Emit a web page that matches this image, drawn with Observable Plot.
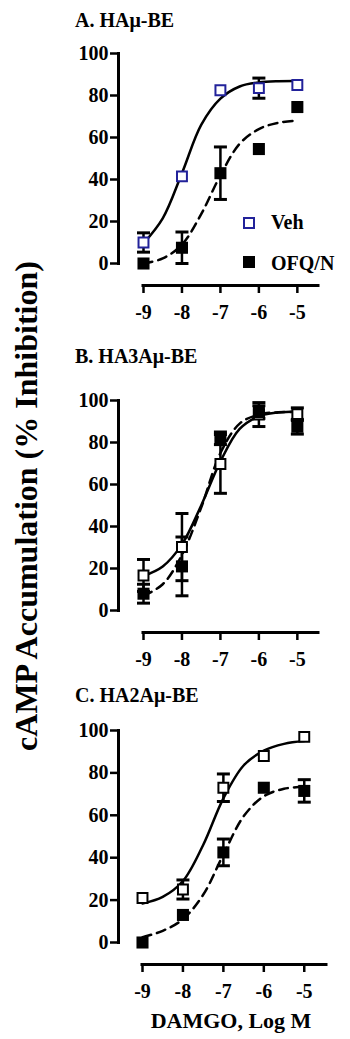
<!DOCTYPE html>
<html>
<head>
<meta charset="utf-8">
<script src="https://cdn.jsdelivr.net/npm/d3@7"></script>
<script src="https://cdn.jsdelivr.net/npm/@observablehq/plot@0.6"></script>
<style>
  html, body { margin: 0; padding: 0; background: white; }
  #root { position: relative; width: 350px; height: 1039px; overflow: hidden;
          font-family: 'Liberation Serif', 'Times New Roman', serif; font-weight: bold; color: black; }
  #root svg, #root svg text { font-family: 'Liberation Serif', 'Times New Roman', serif !important; font-weight: bold; }
  .abs { position: absolute; white-space: nowrap; }
  .t20 { font-size: 20px; line-height: 20px; }
</style>
</head>
<body>
<div id="root"></div>
<script>
// ---------- data ----------
const xTicks = [-9, -8, -7, -6, -5];            // DAMGO, log M
const yTicks = [0, 20, 40, 60, 80, 100];
const fitX = [-9, -8.5, -8, -7.5, -7, -6.5, -6, -5.5, -5];

const panelTitles = ["A. HAμ-BE", "B. HA3Aμ-BE", "C. HA2Aμ-BE"];
const seriesNames = ["Veh", "OFQ/N"];
const yLabel = "cAMP Accumulation (% Inhibition)";
const xLabel = "DAMGO, Log M";

// Panel A
const aVehMean = [10, 41.5, 82.5, 83.5, 85];
const aVehErr  = [4.6, 0, 0, 4.8, 0];
const aOfqMean = [0, 7.5, 43, 54.5, 74.5];
const aOfqErr  = [0, 7.5, 12.5, 0, 0];
const aVehFit  = [9.6, 21.5, 43, 66, 78.5, 84.3, 86.2, 86.8, 86.9];
const aOfqFit  = [0, 2.4, 9, 23.5, 42, 57, 64, 67, 68];

// Panel B
const bVehMean = [16.7, 30.2, 69.8, 93.3, 93.5];
const bVehErr  = [7.6, 16, 14, 5.7, 3];
const bOfqMean = [8, 21, 82, 94.5, 87.5];
const bOfqErr  = [4.5, 14, 3, 3, 3.5];
const bVehFit  = [16.5, 21, 31.5, 50, 71, 86.5, 92.5, 94.3, 94.8];
const bOfqFit  = [7, 12.5, 26.5, 49, 75, 89, 93.3, 94.4, 94.6];

// Panel C
const cVehMean = [21, 25, 73, 88, 97];
const cVehErr  = [0, 4.5, 6.5, 0, 0];
const cOfqMean = [0, 13, 42.5, 73, 71.5];
const cOfqErr  = [0, 0, 6.3, 0, 5.3];
const cVehFit  = [18.4, 21.5, 29, 46, 68, 83.5, 90.5, 93.7, 95];
const cOfqFit  = [2.5, 5.5, 11, 22.5, 41.5, 59.5, 69, 72.5, 73.5];

// ---------- layout ----------
const FONT = "'Liberation Serif', 'Times New Roman', serif";
const vehColors = ["#22229a", "#000", "#000"];
const xDomain = [-9, -4.45];
const panels = [
  {top: 0,   xRange: [143, 318], height: 330, mb: 67, title: 0,
   veh: [aVehMean, aVehErr, aVehFit], ofq: [aOfqMean, aOfqErr, aOfqFit]},
  {top: 347, xRange: [143, 318], height: 330, mb: 67, title: 1,
   veh: [bVehMean, bVehErr, bVehFit], ofq: [bOfqMean, bOfqErr, bOfqFit]},
  {top: 677, xRange: [142, 326], height: 330, mb: 65, title: 2,
   veh: [cVehMean, cVehErr, cVehFit], ofq: [cOfqMean, cOfqErr, cOfqFit]}
];
const titleTops = [10, 346, 685];

const capSymbol = {
  draw(context, size) {
    const r = Math.sqrt(size / Math.PI);
    context.moveTo(-r, 0);
    context.lineTo(r, 0);
  }
};

const root = document.getElementById("root");

function pts(means, errs) {
  return xTicks.map((x, i) => ({x, y: means[i], e: errs[i]}));
}
function fit(vals) {
  return fitX.map((x, i) => ({x, y: vals[i]}));
}

panels.forEach((p, k) => {
  const veh = pts(p.veh[0], p.veh[1]);
  const ofq = pts(p.ofq[0], p.ofq[1]);
  const vehE = veh.filter(d => d.e > 0);
  const ofqE = ofq.filter(d => d.e > 0);
  const caps = (arr) => arr.flatMap(d => [{x: d.x, y: d.y + d.e}, {x: d.x, y: d.y - d.e}]);
  const vc = vehColors[k];

  const chart = Plot.plot({
    width: 350,
    height: p.height,
    marginTop: 53,
    marginBottom: p.mb,
    marginLeft: 118,
    marginRight: 10,
    x: {domain: xDomain, range: p.xRange},
    y: {domain: [0, 100]},
    style: {
      fontFamily: FONT,
      fontSize: "20px",
      fontWeight: "bold",
      color: "black",
      background: "transparent",
      overflow: "visible"
    },
    marks: [
      Plot.frame({anchor: "left", strokeWidth: 3}),
      Plot.axisY({ticks: yTicks, label: null, tickSize: 8, tickPadding: 2, strokeWidth: 2.5,
                  fontFamily: FONT, fontSize: 20, fontWeight: "bold", tickFormat: d => String(d)}),
      Plot.ruleY([0], {x1: () => xDomain[0], x2: () => xDomain[1], dy: 22, strokeWidth: 3, strokeLinecap: "square"}),
      Plot.axisX({ticks: xTicks, label: null, tickSize: 8, tickPadding: 11, dy: 22, strokeWidth: 2.5,
                  fontFamily: FONT, fontSize: 20, fontWeight: "bold", tickFormat: d => String(d)}),
      // fitted curves
      Plot.line(fit(p.veh[2]), {x: "x", y: "y", curve: "catmull-rom", stroke: "black", strokeWidth: 2.5}),
      Plot.line(fit(p.ofq[2]), {x: "x", y: "y", curve: "catmull-rom", stroke: "black", strokeWidth: 2.5, strokeDasharray: "9,6"}),
      // error bars
      Plot.ruleX(vehE, {x: "x", y1: d => d.y - d.e, y2: d => d.y + d.e, stroke: "black", strokeWidth: 2.5}),
      Plot.dot(caps(vehE), {x: "x", y: "y", symbol: capSymbol, r: 6.5, stroke: "black", strokeWidth: 3}),
      Plot.ruleX(ofqE, {x: "x", y1: d => d.y - d.e, y2: d => d.y + d.e, stroke: "black", strokeWidth: 2.5}),
      Plot.dot(caps(ofqE), {x: "x", y: "y", symbol: capSymbol, r: 6.5, stroke: "black", strokeWidth: 3}),
      // points
      Plot.dot(veh, {x: "x", y: "y", symbol: "square", r: 5.6, fill: "white", stroke: vc, strokeWidth: 2}),
      Plot.dot(ofq, {x: "x", y: "y", symbol: "square", r: 6.8, fill: "black", stroke: "none"})
    ]
  });
  const holder = document.createElement("div");
  holder.className = "abs";
  holder.style.left = "0px";
  holder.style.top = p.top + "px";
  holder.appendChild(chart);
  root.appendChild(holder);

  const t = document.createElement("div");
  t.className = "abs t20";
  t.style.left = "75px";
  t.style.top = titleTops[k] + "px";
  t.textContent = panelTitles[p.title];
  root.appendChild(t);
});

// legend (panel A)
const legendRows = [
  {top: 217, textTop: 212, sq: "open"},
  {top: 256, textTop: 253, sq: "filled"}
];
legendRows.forEach((r, i) => {
  const s = document.createElement("div");
  s.className = "abs";
  s.style.left = "243px";
  s.style.top = r.top + "px";
  s.style.width = "12px";
  s.style.height = "12px";
  s.style.boxSizing = "border-box";
  if (r.sq === "open") { s.style.border = "2px solid " + vehColors[0]; s.style.background = "white"; }
  else { s.style.background = "black"; }
  root.appendChild(s);
  const t = document.createElement("div");
  t.className = "abs t20";
  t.style.left = "271px";
  t.style.top = r.textTop + "px";
  t.textContent = seriesNames[i];
  root.appendChild(t);
});

// y label
const yl = document.createElement("div");
yl.className = "abs";
yl.style.fontSize = "32px";
yl.style.lineHeight = "32px";
yl.style.width = "600px";
yl.style.textAlign = "center";
yl.style.left = (26 - 300) + "px";
yl.style.top = (506 - 16) + "px";
yl.style.transform = "rotate(-90deg)";
yl.textContent = yLabel;
root.appendChild(yl);

// x label
const xl = document.createElement("div");
xl.className = "abs";
xl.style.fontSize = "22px";
xl.style.lineHeight = "22px";
xl.style.width = "240px";
xl.style.textAlign = "center";
xl.style.left = (231 - 120) + "px";
xl.style.top = "1010px";
xl.textContent = xLabel;
root.appendChild(xl);
</script>
</body>
</html>
